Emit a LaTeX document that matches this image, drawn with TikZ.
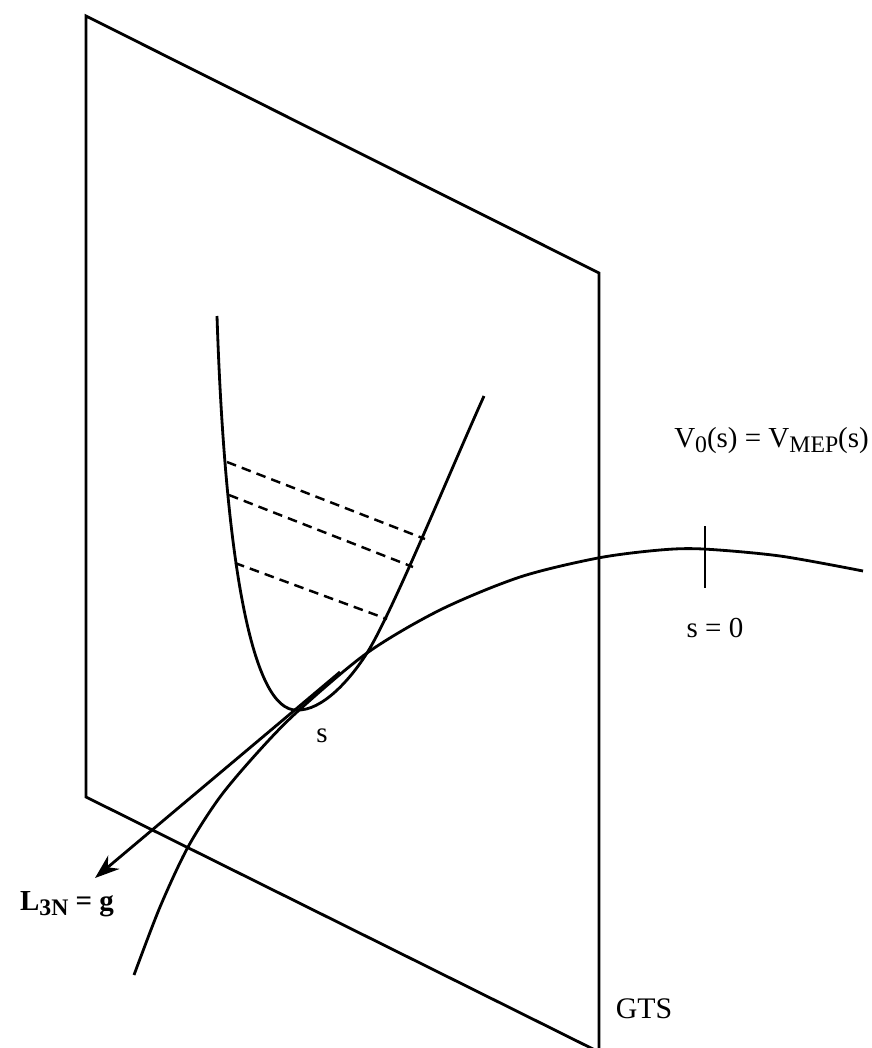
\documentclass[tikz,border=0pt]{standalone}
\usepackage{fontspec}
\setmainfont{Liberation Serif}
\usetikzlibrary{arrows.meta}
\newcommand\lowidx[1]{\raisebox{-0.45ex}{\fontsize{13.5}{14}\selectfont #1}}

\begin{document}
\begin{tikzpicture}[x=0.02cm,y=-0.02cm,line width=1.6pt,
  every node/.style={font=\fontsize{16.5}{20}\selectfont, anchor=base},
  level/.style={dash pattern=on 5.5pt off 3.5pt, line width=1.4pt}]
  \useasboundingbox (0,0) rectangle (872,1048);
  % the GTS plane
  \coordinate (p1) at (86,16);
  \coordinate (p2) at (599,273);
  \coordinate (p3) at (599,1052);
  \coordinate (p4) at (86,797);
  \draw[line join=miter] (p1) -- (p2) -- (p3) -- (p4) -- cycle;
  % cut of the surface in the plane
  \coordinate (top1) at (217,316);
  \coordinate (bot) at (297,710);
  \coordinate (cross) at (367,653);
  \coordinate (top2) at (484,396);
  \draw (top1) .. controls (225,560) and (252,712) .. (bot)
    .. controls (322,711) and (350,680) .. (cross)
    .. controls (392,613) and (448,476) .. (top2);
  \coordinate (a1) at (227,462);  \coordinate (b1) at (425,539);
  \coordinate (a2) at (229,495);  \coordinate (b2) at (413,567);
  \coordinate (a3) at (235,563);  \coordinate (b3) at (387,619);
  \draw[level] (a1) -- (b1);
  \draw[level] (a2) -- (b2);
  \draw[level] (a3) -- (b3);
  % reaction path
  \draw plot[smooth] coordinates {(134,975) (160,907) (188,847) (220,797)
    (258,752) (297,712) (367,653) (440,610) (520,577) (598,558) (660,550)
    (703,549) (780,556) (863,571)};
  \coordinate (t1) at (705,526);
  \coordinate (t2) at (705,588);
  \draw (t1) -- (t2);
  % gradient
  \coordinate (gs) at (340,672);
  \coordinate (gt) at (95,878);
  \draw[-{Stealth[length=14pt,width=10pt]}] (gs) -- (gt);
  % labels
  \node (vmep) [anchor=base west] at (667,447) {V\lowidx{0}(s) = V\lowidx{MEP}(s)};
  \node (zero) at (715,637) {s = 0};
  \node (s) at (322,742) {s};
  \node (lg) at (67,910) {\textbf{L\lowidx{\bfseries 3N} = g}};
  \node (gts) [font=\fontsize{17}{20}\selectfont] at (644,1018) {GTS};
\end{tikzpicture}
\end{document}
